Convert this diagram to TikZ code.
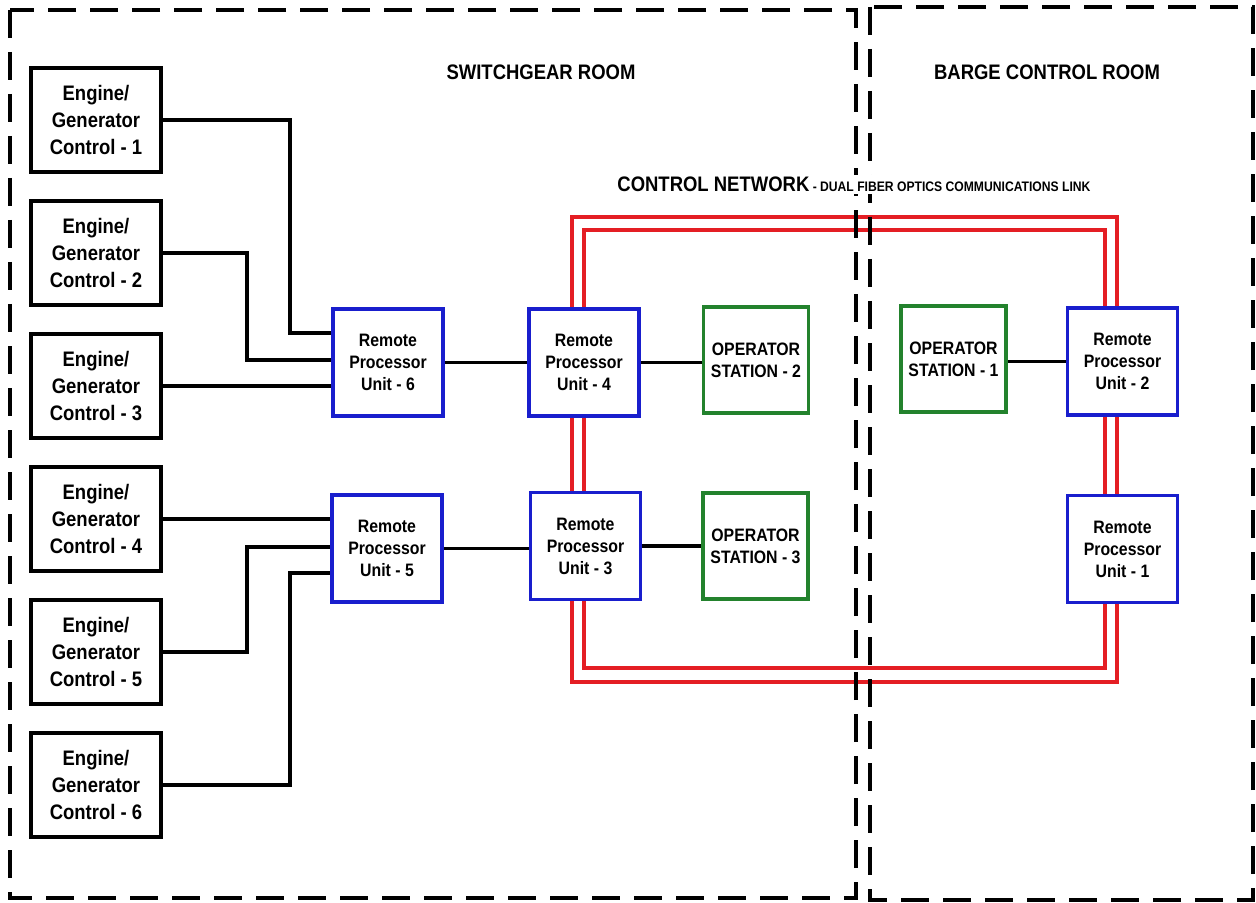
\documentclass[tikz,border=0pt]{standalone}
\usepackage{fontspec}
\setmainfont{Liberation Sans}[FakeStretch=0.88]
\usetikzlibrary{calc,positioning}
\pgfdeclarelayer{background}
\pgfsetlayers{background,main}
\definecolor{rpublue}{RGB}{25,30,205}
\definecolor{osgreen}{RGB}{35,130,45}
\definecolor{fibred}{RGB}{228,30,36}

\begin{document}
\begin{tikzpicture}[
x=0.5pt,y=-0.5pt,
room/.style={
	draw,
	line width=2pt,
	dash pattern=on 14pt off 7pt
},
roomtitle/.style={
	font=\fontsize{10.5}{12}\selectfont\bfseries
},
engctl/.style={
	draw,
	fill=white,
	line width=1.6pt,
	minimum width=65pt,
	minimum height=52pt,
	inner sep=0pt,
	align=center,
	font=\fontsize{10.5}{13.3}\selectfont\bfseries
},
rpu/.style={
	draw=rpublue,
	fill=white,
	line width=1.8pt,
	minimum width=55pt,
	minimum height=53.5pt,
	inner sep=0pt,
	align=center,
	font=\fontsize{9}{11}\selectfont\bfseries
},
opstation/.style={
	rpu,
	draw=osgreen,
	minimum width=52.5pt,
	minimum height=53pt
},
wire/.style={
	line width=1.6pt
},
fiber/.style={
	draw=fibred,
	line width=1.8pt
}
]
\useasboundingbox (0,0) rectangle (1256,903);

% the two rooms
\draw[room] (10,10) rectangle (856,898);
\draw[room] (870,7) rectangle (1253,900);

\node[roomtitle] (swroom) at (541,72) {SWITCHGEAR ROOM};
\node[roomtitle] (bcroom) at (1047,72) {BARGE CONTROL ROOM};
\node[roomtitle,anchor=base west,inner sep=1pt,fill=white] (ctlnet) at (615,192)
	{CONTROL NETWORK{\fontsize{6.9}{8}\selectfont\ - DUAL FIBER OPTICS COMMUNICATIONS LINK}};

\foreach \y/\n in {120/1,253/2,386/3,519/4,652/5,785/6}
\node[engctl] (eg\n) at (96,\y) {Engine/\\Generator\\Control - \n};

\foreach \n/\x/\y in {6/388/362.5,4/584/362.5,5/387/548.5,3/585.5/546,2/1122.5/361.5,1/1122.5/549}
\node[rpu] (rpu\n) at (\x,\y) {Remote\\Processor\\Unit - \n};

\foreach \n/\x/\y in {2/756/360,3/755.5/546,1/953.5/359}
\node[opstation] (os\n) at (\x,\y) {OPERATOR\\STATION - \n};

% engine/generator controls to RPU 6 and RPU 5
\coordinate (k1) at (290,333);
\coordinate (k2) at (247,360);
\coordinate (k5) at (247,547);
\coordinate (k6) at (290,573);
\draw[wire] (eg1.east) -| (k1) -- (k1 -| rpu6.west);
\draw[wire] (eg2.east) -| (k2) -- (k2 -| rpu6.west);
\draw[wire] (eg3.east) -- (eg3.east -| rpu6.west);
\draw[wire] (eg4.east) -- (eg4.east -| rpu5.west);
\draw[wire] (eg5.east) -| (k5) -- (k5 -| rpu5.west);
\draw[wire] (eg6.east) -| (k6) -- (k6 -| rpu5.west);

\draw[wire] (rpu6.east) -- (rpu6.east -| rpu4.west);
\draw[wire] (rpu5.east) -- (rpu5.east -| rpu3.west);
\draw[wire] (rpu4.east) -- (rpu4.east -| os2.west);
\draw[wire] (rpu3.east) -- (rpu3.east -| os3.west);
\draw[wire] (rpu2.west) -- (rpu2.west -| os1.east);

% dual fiber ring
\coordinate (oNW) at (572,217);
\coordinate (oNE) at (1117,217);
\coordinate (oSE) at (1117,682);
\coordinate (oSW) at (572,682);
\coordinate (iNW) at (584,230);
\coordinate (iNE) at (1105,230);
\coordinate (iSE) at (1105,668);
\coordinate (iSW) at (584,668);
\begin{pgfonlayer}{background}
\foreach \lp in {o,i}{
	\draw[fiber] (rpu4.north -| \lp NW) -- (\lp NW) -- (\lp NE) -- (rpu2.north -| \lp NE);
	\draw[fiber] (rpu4.south -| \lp NW) -- (rpu3.north -| \lp NW);
	\draw[fiber] (rpu3.south -| \lp SW) -- (\lp SW) -- (\lp SE) -- (rpu1.south -| \lp SE);
	\draw[fiber] (rpu2.south -| \lp NE) -- (rpu1.north -| \lp NE);
}
\end{pgfonlayer}
\end{tikzpicture}
\end{document}
